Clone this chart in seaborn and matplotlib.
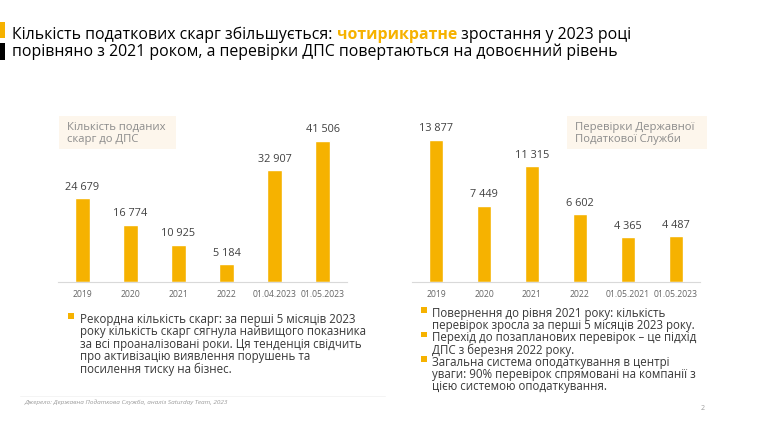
import matplotlib
matplotlib.use("Agg")
import matplotlib.pyplot as plt
import seaborn as sns
import pandas as pd
from matplotlib.patches import Rectangle

# data
complaint_labels = ["2019", "2020", "2021", "2022", "01.04.2023", "01.05.2023"]
complaint_values = [24679, 16774, 10925, 5184, 32907, 41506]
audit_labels = ["2019", "2020", "2021", "2022", "01.05.2021", "01.05.2023"]
audit_values = [13877, 7449, 11315, 6602, 4365, 4487]

title_parts = ["Кількість податкових скарг збільшується: ", "чотирикратне", " зростання у 2023 році"]
title_line2 = "порівняно з 2021 роком, а перевірки ДПС повертаються на довоєнний рівень"
left_box = "Кількість поданих\nскарг до ДПС"
right_box = "Перевірки Державної\nПодаткової Служби"
left_bullets = [["Рекордна кількість скарг: за перші 5 місяців 2023",
                 "року кількість скарг сягнула найвищого показника",
                 "за всі проаналізовані роки. Ця тенденція свідчить",
                 "про активізацію виявлення порушень та",
                 "посилення тиску на бізнес."]]
right_bullets = [["Повернення до рівня 2021 року: кількість",
                  "перевірок зросла за перші 5 місяців 2023 року."],
                 ["Перехід до позапланових перевірок – це підхід",
                  "ДПС з березня 2022 року."],
                 ["Загальна система оподаткування в центрі",
                  "уваги: 90% перевірок спрямовані на компанії з",
                  "цією системою оподаткування."]]
source = "Джерело: Державна Податкова Служба, аналіз Saturday Team, 2023"

YELLOW = "#F6B200"
W, H = 764, 425

sns.set_theme(style="white")
plt.rcParams["font.family"] = ["Open Sans", "DejaVu Sans"]

fig = plt.figure(figsize=(W / 100, H / 100), dpi=100)
fig.patch.set_facecolor("white")

# full-slide overlay in pixel coordinates
ov = fig.add_axes([0, 0, 1, 1], zorder=0)
ov.set_xlim(0, W)
ov.set_ylim(H, 0)
ov.axis("off")


def px_axes(x0, y0, x1, y1):
    return fig.add_axes([x0 / W, 1 - y1 / H, (x1 - x0) / W, (y1 - y0) / H], zorder=1)


def draw_bars(ax, labels, values, ymax):
    df = pd.DataFrame({"cat": labels, "val": values})
    sns.barplot(data=df, x="cat", y="val", color=YELLOW, saturation=1, width=0.31, ax=ax)
    ax.set_facecolor("none")
    ax.set_xlim(-0.5, len(labels) - 0.5)
    ax.set_ylim(0, ymax)
    ax.set_xlabel("")
    ax.set_ylabel("")
    ax.set_yticks([])
    for s in ["top", "right", "left"]:
        ax.spines[s].set_visible(False)
    ax.spines["bottom"].set_color("#d9d9d9")
    ax.spines["bottom"].set_linewidth(0.8)
    ax.tick_params(axis="x", length=0, labelsize=6.2, labelcolor="#666666", pad=6)
    ax.set_xticks([i - 0.5 for i in range(len(labels) + 1)], minor=True)
    ax.tick_params(axis="x", which="minor", length=3.5, color="#d9d9d9", width=0.8)
    ax.bar_label(ax.containers[0], labels=[f"{v:,}".replace(",", " ") for v in values],
                 padding=4, fontsize=7.8, color="#404040")


ax1 = px_axes(58, 100, 347, 282)
draw_bars(ax1, complaint_labels, complaint_values, 41506 * 182 / 141)
ax2 = px_axes(412, 100, 700, 282)
draw_bars(ax2, audit_labels, audit_values, 13877 * 182 / 142)

# label boxes
ov.add_patch(Rectangle((59, 116), 117, 33, facecolor="#FDF6EC", edgecolor="none"))
ov.add_patch(Rectangle((567, 116), 140, 33, facecolor="#FDF6EC", edgecolor="none"))
for bx, txt in [(67, left_box), (575, right_box)]:
    for k, line in enumerate(txt.split("\n")):
        ov.text(bx, 127 + 12.5 * k, line, fontsize=8.1, color="#8c8c8c", va="center", ha="left")

# title accent bars
ov.add_patch(Rectangle((0, 22), 4.5, 16, facecolor=YELLOW, edgecolor="none"))
ov.add_patch(Rectangle((0, 43), 4.5, 17, facecolor="black", edgecolor="none"))

# title line 1 in pieces
fig.canvas.draw()
renderer = fig.canvas.get_renderer()
x = 12
for i, part in enumerate(title_parts):
    t = ov.text(x, 35, part, fontsize=11.4, va="center", ha="left",
                color=YELLOW if i == 1 else "black",
                fontweight="bold" if i == 1 else "normal")
    bb = t.get_window_extent(renderer)
    x += bb.width
ov.text(12, 52, title_line2, fontsize=11.4, va="center", ha="left", color="black")


# bullets, one text per line
def bullets(items, bx, tx, y0, step):
    y = y0
    for item in items:
        ov.add_patch(Rectangle((bx, y - 6), 5.5, 5.5, facecolor=YELLOW, edgecolor="none"))
        for line in item:
            ov.text(tx, y, line, fontsize=8.3, color="#383838", va="center", ha="left")
            y += step


bullets(left_bullets, 68, 80, 319, 12.6)
bullets(right_bullets, 421, 432, 313, 12.3)

ov.plot([20, 385], [396, 396], color="#f2f2f2", lw=0.6)
ov.text(25, 402, source, fontsize=4.6, color="#9a9a9a", style="italic", va="center", ha="left")
ov.text(703, 408, "2", fontsize=5, color="#9a9a9a", va="center", ha="center")

fig.savefig("out.png", dpi=100, facecolor="white")
